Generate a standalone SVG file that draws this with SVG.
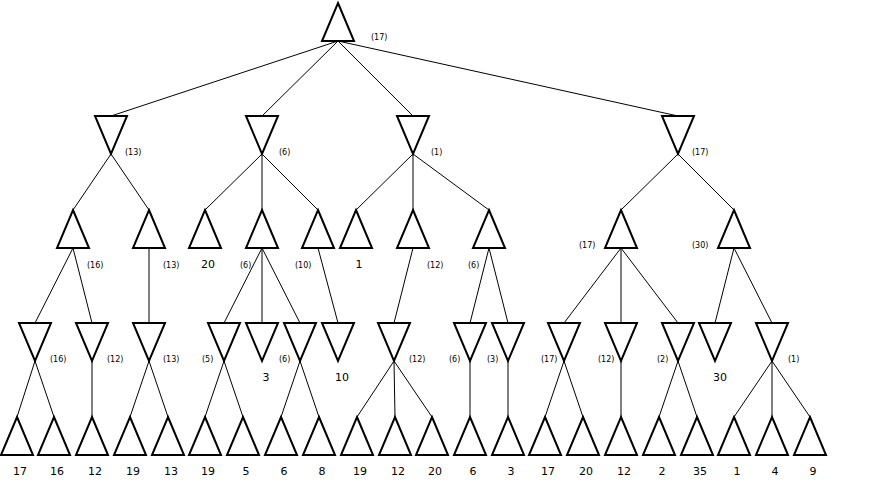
<svg xmlns="http://www.w3.org/2000/svg" xmlns:xlink="http://www.w3.org/1999/xlink" width="875" height="483" viewBox="0 0 875 483">
<style>
.t{fill:#fff;stroke:#000;stroke-width:2}
.e line{stroke:#000;stroke-width:1}
.v{font-family:"DejaVu Sans",sans-serif;font-size:11px;text-anchor:middle}
.l{font-family:"DejaVu Sans",sans-serif;font-size:8px}
</style>
<defs>
<path id="up" class="t" d="M0,0 L16,38 L-16,38Z"/>
<path id="dn" class="t" d="M-16,0 L16,0 L0,38Z"/>
</defs>
<g class="e" id="edges">
<line x1="338" y1="41" x2="111" y2="116"/><line x1="338" y1="41" x2="262" y2="116"/><line x1="338" y1="41" x2="413" y2="116"/><line x1="338" y1="41" x2="678" y2="116"/>
<line x1="111" y1="154" x2="73" y2="210"/><line x1="111" y1="154" x2="149" y2="210"/>
<line x1="262" y1="154" x2="205" y2="210"/><line x1="262" y1="154" x2="262" y2="210"/><line x1="262" y1="154" x2="318" y2="210"/>
<line x1="413" y1="154" x2="356" y2="210"/><line x1="413" y1="154" x2="413" y2="210"/><line x1="413" y1="154" x2="489" y2="210"/>
<line x1="678" y1="154" x2="621" y2="210"/><line x1="678" y1="154" x2="734" y2="210"/>
<line x1="73" y1="248" x2="35" y2="323"/><line x1="73" y1="248" x2="92" y2="323"/>
<line x1="149" y1="248" x2="149" y2="323"/>
<line x1="262" y1="248" x2="224" y2="323"/><line x1="262" y1="248" x2="262" y2="323"/><line x1="262" y1="248" x2="300" y2="323"/>
<line x1="318" y1="248" x2="338" y2="323"/>
<line x1="413" y1="248" x2="394" y2="323"/>
<line x1="489" y1="248" x2="470" y2="323"/><line x1="489" y1="248" x2="508" y2="323"/>
<line x1="621" y1="248" x2="564" y2="323"/><line x1="621" y1="248" x2="621" y2="323"/><line x1="621" y1="248" x2="678" y2="323"/>
<line x1="734" y1="248" x2="715" y2="323"/><line x1="734" y1="248" x2="772" y2="323"/>
<line x1="35" y1="361" x2="17" y2="417"/><line x1="35" y1="361" x2="54" y2="417"/>
<line x1="92" y1="361" x2="92" y2="417"/>
<line x1="149" y1="361" x2="130" y2="417"/><line x1="149" y1="361" x2="168" y2="417"/>
<line x1="224" y1="361" x2="205" y2="417"/><line x1="224" y1="361" x2="243" y2="417"/>
<line x1="300" y1="361" x2="281" y2="417"/><line x1="300" y1="361" x2="319" y2="417"/>
<line x1="394" y1="361" x2="357" y2="417"/><line x1="394" y1="361" x2="395" y2="417"/><line x1="394" y1="361" x2="432" y2="417"/>
<line x1="470" y1="361" x2="470" y2="417"/><line x1="508" y1="361" x2="508" y2="417"/>
<line x1="564" y1="361" x2="545" y2="417"/><line x1="564" y1="361" x2="583" y2="417"/>
<line x1="621" y1="361" x2="621" y2="417"/>
<line x1="678" y1="361" x2="659" y2="417"/><line x1="678" y1="361" x2="697" y2="417"/>
<line x1="772" y1="361" x2="734" y2="417"/><line x1="772" y1="361" x2="772" y2="417"/><line x1="772" y1="361" x2="810" y2="417"/>
</g>
<g id="root"><use href="#up" x="338" y="3"/><text class="l" x="371" y="40">(17)</text></g>
<g id="A"><use href="#dn" x="111" y="116"/><text class="l" x="125" y="155">(13)</text></g>
<g id="B"><use href="#dn" x="262" y="116"/><text class="l" x="279" y="155">(6)</text></g>
<g id="C"><use href="#dn" x="413" y="116"/><text class="l" x="431" y="155">(1)</text></g>
<g id="D"><use href="#dn" x="678" y="116"/><text class="l" x="692" y="155">(17)</text></g>
<g id="A1"><use href="#up" x="73" y="210"/><text class="l" x="87" y="268">(16)</text></g>
<g id="A2"><use href="#up" x="149" y="210"/><text class="l" x="163" y="268">(13)</text></g>
<g id="B1"><use href="#up" x="205" y="210"/><text class="v" x="208" y="268">20</text></g>
<g id="B2"><use href="#up" x="262" y="210"/><text class="l" x="240" y="268">(6)</text></g>
<g id="B3"><use href="#up" x="318" y="210"/><text class="l" x="295" y="268">(10)</text></g>
<g id="C1"><use href="#up" x="356" y="210"/><text class="v" x="359" y="268">1</text></g>
<g id="C2"><use href="#up" x="413" y="210"/><text class="l" x="427" y="268">(12)</text></g>
<g id="C3"><use href="#up" x="489" y="210"/><text class="l" x="468" y="268">(6)</text></g>
<g id="D1"><use href="#up" x="621" y="210"/><text class="l" x="579" y="248">(17)</text></g>
<g id="D2"><use href="#up" x="734" y="210"/><text class="l" x="692" y="248">(30)</text></g>
<g id="n35"><use href="#dn" x="35" y="323"/><text class="l" x="50" y="362">(16)</text></g>
<g id="n92"><use href="#dn" x="92" y="323"/><text class="l" x="107" y="362">(12)</text></g>
<g id="n149"><use href="#dn" x="149" y="323"/><text class="l" x="163" y="362">(13)</text></g>
<g id="n224"><use href="#dn" x="224" y="323"/><text class="l" x="202" y="362">(5)</text></g>
<g id="n262"><use href="#dn" x="262" y="323"/><text class="v" x="266" y="381">3</text></g>
<g id="n300"><use href="#dn" x="300" y="323"/><text class="l" x="279" y="362">(6)</text></g>
<g id="n338"><use href="#dn" x="338" y="323"/><text class="v" x="342" y="381">10</text></g>
<g id="n394"><use href="#dn" x="394" y="323"/><text class="l" x="409" y="362">(12)</text></g>
<g id="n470"><use href="#dn" x="470" y="323"/><text class="l" x="449" y="362">(6)</text></g>
<g id="n508"><use href="#dn" x="508" y="323"/><text class="l" x="487" y="362">(3)</text></g>
<g id="n564"><use href="#dn" x="564" y="323"/><text class="l" x="541" y="362">(17)</text></g>
<g id="n621"><use href="#dn" x="621" y="323"/><text class="l" x="598" y="362">(12)</text></g>
<g id="n678"><use href="#dn" x="678" y="323"/><text class="l" x="657" y="362">(2)</text></g>
<g id="n715"><use href="#dn" x="715" y="323"/><text class="v" x="720" y="381">30</text></g>
<g id="n772"><use href="#dn" x="772" y="323"/><text class="l" x="788" y="362">(1)</text></g>
<g id="leaves">
<g id="l1"><use href="#up" x="17" y="417"/><text class="v" x="20" y="475">17</text></g>
<g id="l2"><use href="#up" x="54" y="417"/><text class="v" x="57" y="475">16</text></g>
<g id="l3"><use href="#up" x="92" y="417"/><text class="v" x="95" y="475">12</text></g>
<g id="l4"><use href="#up" x="130" y="417"/><text class="v" x="133" y="475">19</text></g>
<g id="l5"><use href="#up" x="168" y="417"/><text class="v" x="171" y="475">13</text></g>
<g id="l6"><use href="#up" x="205" y="417"/><text class="v" x="208" y="475">19</text></g>
<g id="l7"><use href="#up" x="243" y="417"/><text class="v" x="246" y="475">5</text></g>
<g id="l8"><use href="#up" x="281" y="417"/><text class="v" x="284" y="475">6</text></g>
<g id="l9"><use href="#up" x="319" y="417"/><text class="v" x="322" y="475">8</text></g>
<g id="l10"><use href="#up" x="357" y="417"/><text class="v" x="360" y="475">19</text></g>
<g id="l11"><use href="#up" x="395" y="417"/><text class="v" x="398" y="475">12</text></g>
<g id="l12"><use href="#up" x="432" y="417"/><text class="v" x="435" y="475">20</text></g>
<g id="l13"><use href="#up" x="470" y="417"/><text class="v" x="473" y="475">6</text></g>
<g id="l14"><use href="#up" x="508" y="417"/><text class="v" x="511" y="475">3</text></g>
<g id="l15"><use href="#up" x="545" y="417"/><text class="v" x="548" y="475">17</text></g>
<g id="l16"><use href="#up" x="583" y="417"/><text class="v" x="586" y="475">20</text></g>
<g id="l17"><use href="#up" x="621" y="417"/><text class="v" x="624" y="475">12</text></g>
<g id="l18"><use href="#up" x="659" y="417"/><text class="v" x="662" y="475">2</text></g>
<g id="l19"><use href="#up" x="697" y="417"/><text class="v" x="700" y="475">35</text></g>
<g id="l20"><use href="#up" x="734" y="417"/><text class="v" x="737" y="475">1</text></g>
<g id="l21"><use href="#up" x="772" y="417"/><text class="v" x="775" y="475">4</text></g>
<g id="l22"><use href="#up" x="810" y="417"/><text class="v" x="813" y="475">9</text></g>
</g>
</svg>
